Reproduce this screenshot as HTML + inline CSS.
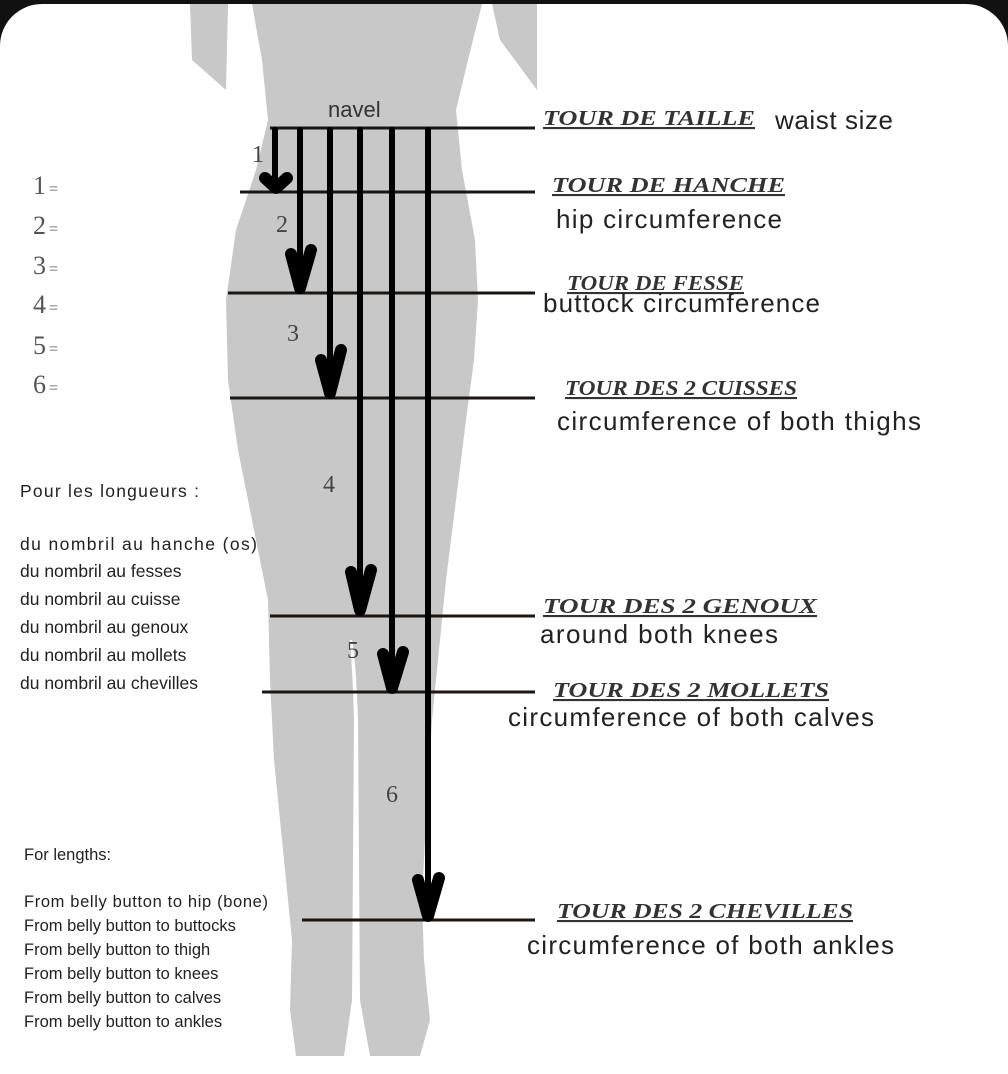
<!DOCTYPE html>
<html><head><meta charset="utf-8"><style>
html,body{margin:0;padding:0;background:#111;}
body{width:1008px;height:1074px;overflow:hidden;position:relative;}
</style></head><body>
<svg width="1008" height="1074" viewBox="0 0 1008 1074" xmlns="http://www.w3.org/2000/svg" style="position:absolute;left:0;top:0">
<rect x="0" y="4" width="1008" height="1120" rx="42" fill="#fff"/>
<!-- silhouette -->
<g fill="#c8c8c8">
<path d="M190 4 L228 4 L226 90 L192 60 Z"/>
<path d="M537 4 L492 4 L500 40 L537 90 Z"/>
<path d="M252 4 L482 4 L468 60 L456 110 L462 170 L475 240 L478 300 L474 360 L466 420 L456 500 L446 580 L440 640 L432 720 L426 820 L422 900 L424 960 L430 1020 L420 1056 L370 1056 L360 1000 L358 720 L354 720 L352 1000 L344 1056 L296 1056 L290 1010 L292 940 L284 860 L274 760 L270 680 L268 600 L252 520 L238 450 L228 380 L226 300 L236 230 L256 170 L268 120 L262 60 Z"/>
</g>
<path d="M352 640 Q356 660 358 720 L354 720 Q353 680 350 640 Z" fill="#fff"/>
<!-- horizontal lines -->
<g stroke="#1c1510" stroke-width="3">
<line x1="270" y1="128" x2="535" y2="128"/>
<line x1="240" y1="192" x2="535" y2="192"/>
<line x1="228" y1="293" x2="535" y2="293"/>
<line x1="230" y1="398" x2="535" y2="398"/>
<line x1="270" y1="616" x2="535" y2="616"/>
<line x1="262" y1="692" x2="535" y2="692"/>
<line x1="302" y1="920" x2="535" y2="920"/>
</g>
<!-- arrows -->
<g stroke="#000" stroke-width="6" fill="none" stroke-linecap="round">
<line x1="275" y1="130" x2="275" y2="190"/>
<line x1="300" y1="130" x2="300" y2="290"/>
<line x1="330" y1="130" x2="330" y2="395"/>
<line x1="360" y1="130" x2="360" y2="612"/>
<line x1="392" y1="130" x2="392" y2="690"/>
<line x1="428" y1="130" x2="428" y2="918"/>
</g>
<g stroke="#000" stroke-width="12" fill="none" stroke-linecap="round" stroke-linejoin="round">
<polyline points="265,178 276,188 287,178"/>
<polyline points="291,254 300,288 311,250"/>
<polyline points="321,360 330,393 341,350"/>
<polyline points="351,572 360,610 371,570"/>
<polyline points="383,654 392,688 403,652"/>
<polyline points="418,880 428,916 439,878"/>
</g>
<!-- numbers -->
<g font-family="Liberation Serif, serif" font-size="24" fill="#444">
<text x="252" y="162">1</text><text x="276" y="232">2</text><text x="287" y="341">3</text>
<text x="323" y="492">4</text><text x="347" y="658">5</text><text x="386" y="802">6</text>
</g>
<text x="328" y="117" font-family="Liberation Sans, sans-serif" font-size="22" fill="#333">navel</text>
<g font-family="Liberation Serif, serif" font-size="26" fill="#555">
<text x="33" y="194">1<tspan font-size="16" dx="3">=</tspan></text>
<text x="33" y="234">2<tspan font-size="16" dx="3">=</tspan></text>
<text x="33" y="274">3<tspan font-size="16" dx="3">=</tspan></text>
<text x="33" y="313">4<tspan font-size="16" dx="3">=</tspan></text>
<text x="33" y="354">5<tspan font-size="16" dx="3">=</tspan></text>
<text x="33" y="393">6<tspan font-size="16" dx="3">=</tspan></text>
</g>
<g font-family="Liberation Sans, sans-serif" font-size="17.5" fill="#222">
<text x="20" y="497" textLength="179">Pour les longueurs :</text>
<text x="20" y="550" textLength="237">du nombril au hanche (os)</text>
<text x="20" y="577">du nombril au fesses</text>
<text x="20" y="605">du nombril au cuisse</text>
<text x="20" y="633">du nombril au genoux</text>
<text x="20" y="661">du nombril au mollets</text>
<text x="20" y="689">du nombril au chevilles</text>
</g>
<g font-family="Liberation Sans, sans-serif" font-size="16.5" fill="#222">
<text x="24" y="860">For lengths:</text>
<text x="24" y="907" textLength="244">From belly button to hip (bone)</text>
<text x="24" y="931">From belly button to buttocks</text>
<text x="24" y="955">From belly button to thigh</text>
<text x="24" y="979">From belly button to knees</text>
<text x="24" y="1003">From belly button to calves</text>
<text x="24" y="1027">From belly button to ankles</text>
</g>
<g font-family="Liberation Serif, serif" font-size="21" font-weight="bold" font-style="italic" fill="#333" lengthAdjust="spacingAndGlyphs">
<text x="543" y="125" textLength="212" lengthAdjust="spacingAndGlyphs" text-decoration="underline">TOUR DE TAILLE</text>
<text x="552" y="192" textLength="233" lengthAdjust="spacingAndGlyphs" text-decoration="underline">TOUR DE HANCHE</text>
<text x="567" y="290" textLength="177" lengthAdjust="spacingAndGlyphs" text-decoration="underline">TOUR DE FESSE</text>
<text x="565" y="395" textLength="232" lengthAdjust="spacingAndGlyphs" text-decoration="underline">TOUR DES 2 CUISSES</text>
<text x="543" y="613" textLength="274" lengthAdjust="spacingAndGlyphs" text-decoration="underline">TOUR DES 2 GENOUX</text>
<text x="553" y="697" textLength="276" lengthAdjust="spacingAndGlyphs" text-decoration="underline">TOUR DES 2 MOLLETS</text>
<text x="557" y="918" textLength="296" lengthAdjust="spacingAndGlyphs" text-decoration="underline">TOUR DES 2 CHEVILLES</text>
</g>
<g font-family="Liberation Sans, sans-serif" font-size="26" fill="#222">
<text x="775" y="129" textLength="118">waist size</text>
<text x="556" y="228" textLength="226">hip circumference</text>
<text x="543" y="312" textLength="277">buttock circumference</text>
<text x="557" y="430" textLength="364">circumference of both thighs</text>
<text x="540" y="643" textLength="238">around both knees</text>
<text x="508" y="726" textLength="366">circumference of both calves</text>
<text x="527" y="954" textLength="367">circumference of both ankles</text>
</g>
</svg>
</body></html>
